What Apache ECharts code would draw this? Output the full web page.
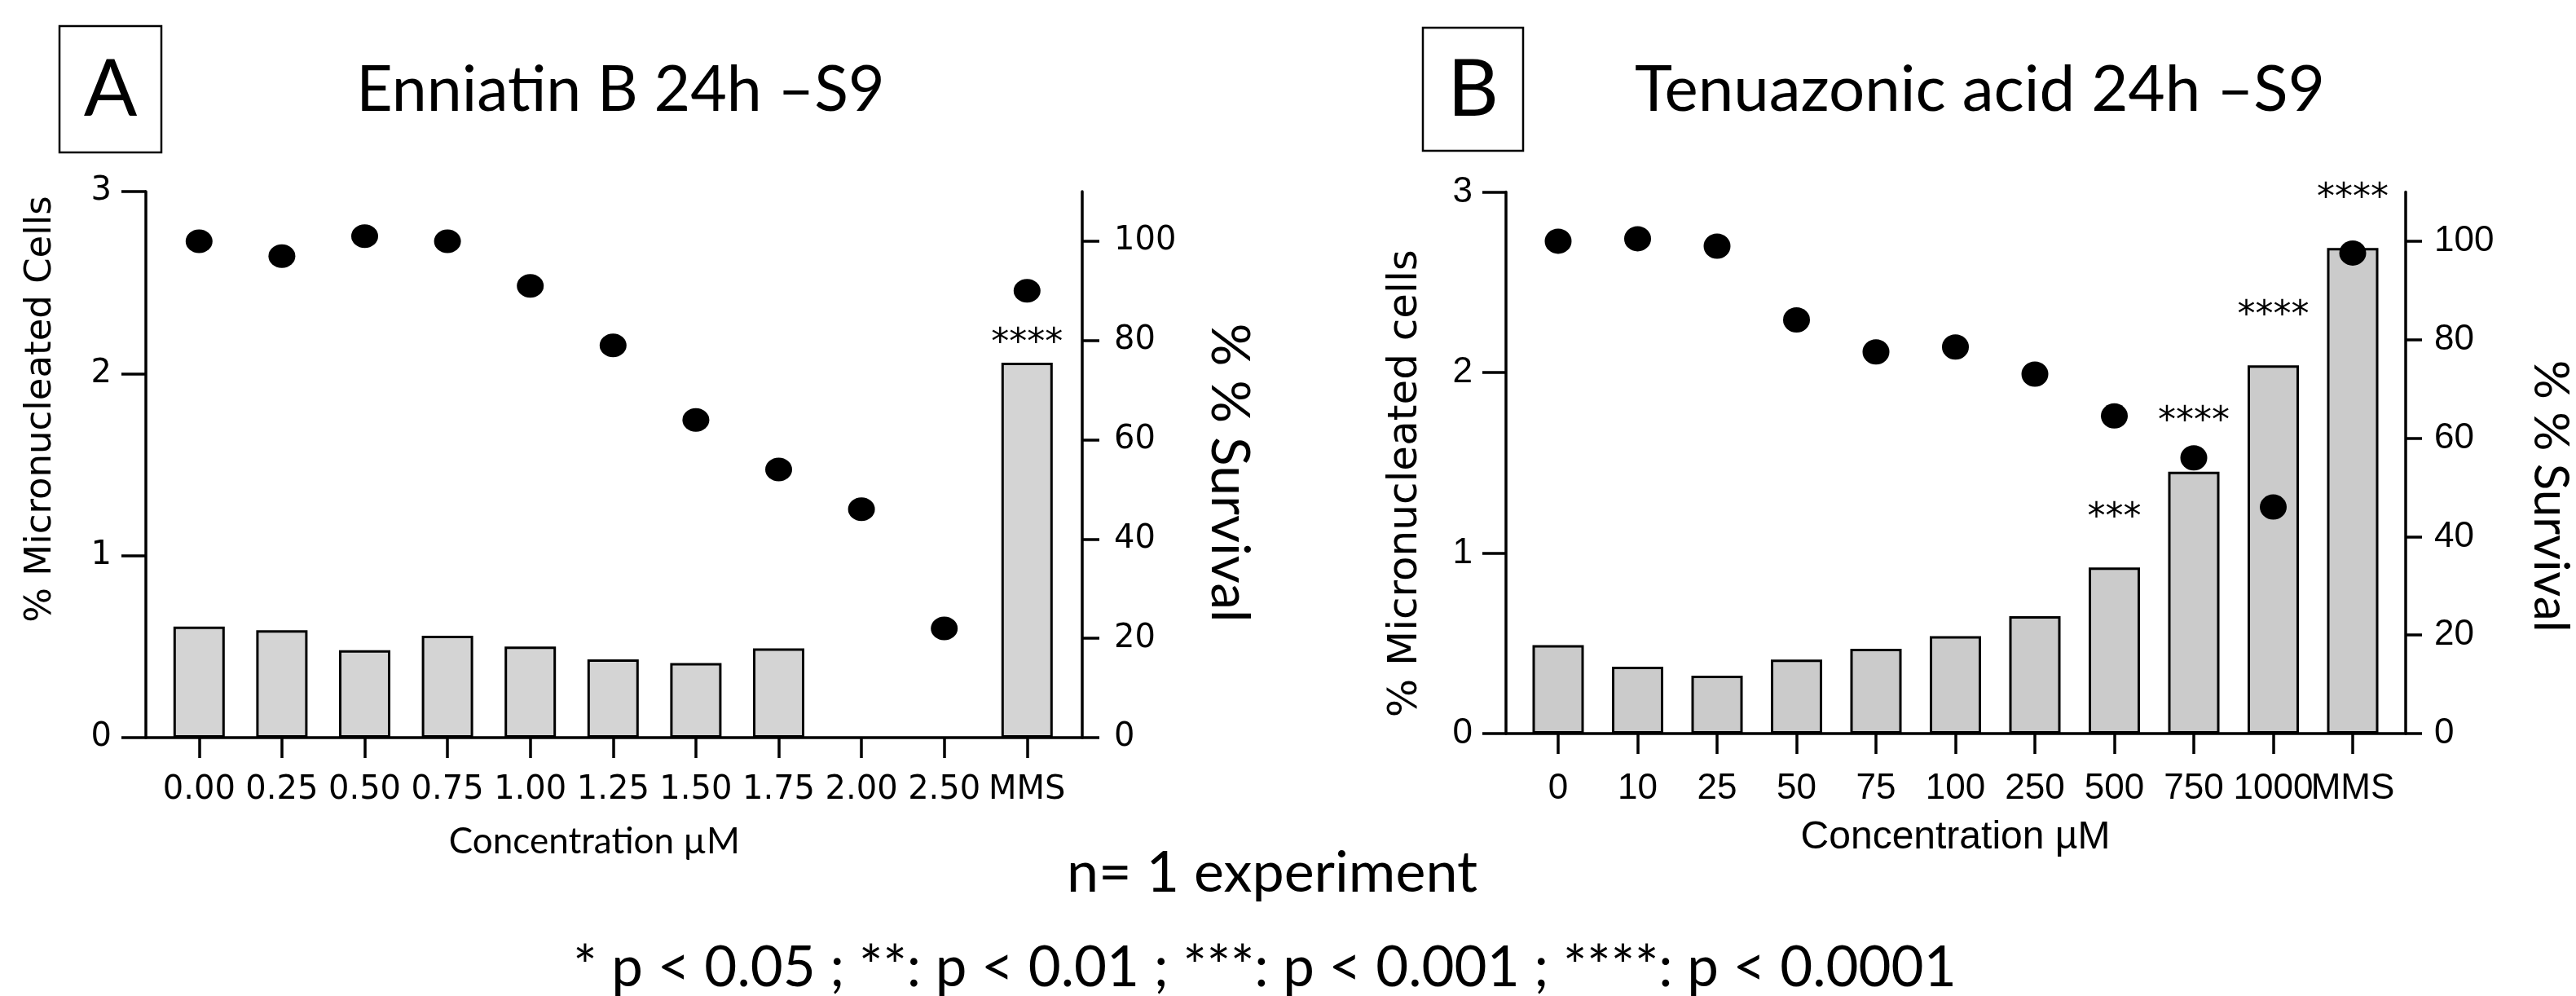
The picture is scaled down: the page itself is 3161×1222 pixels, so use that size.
<!DOCTYPE html>
<html>
<head>
<meta charset="utf-8">
<script src="https://cdn.jsdelivr.net/npm/echarts@6/dist/echarts.min.js"></script>
<style>html,body{margin:0;padding:0;background:#fff}#c{width:3161px;height:1222px}</style>
</head>
<body>
<div id="c"></div>
<script>
// ---- data ----
const catsA = ['0.00', '0.25', '0.50', '0.75', '1.00', '1.25', '1.50', '1.75', '2.00', '2.50', 'MMS'];
const micronucA = [0.61, 0.59, 0.48, 0.56, 0.50, 0.43, 0.41, 0.49, null, null, 2.06];
const survivalA = [100, 97, 101, 100, 91, 79, 64, 54, 46, 22, 90];
const sigA = ['', '', '', '', '', '', '', '', '', '', '****'];

const catsB = ['0', '10', '25', '50', '75', '100', '250', '500', '750', '1000', 'MMS'];
const micronucB = [0.49, 0.37, 0.32, 0.41, 0.47, 0.54, 0.65, 0.92, 1.45, 2.04, 2.69];
const survivalB = [100, 100.5, 99, 84, 77.5, 78.5, 73, 64.5, 56, 46, 97.6];
const sigB = ['', '', '', '', '', '', '', '***', '****', '****', '****'];

const leftTicks = [0, 1, 2, 3];
const rightTicks = [0, 20, 40, 60, 80, 100];

// ---- styles ----
const BLACK = '#000';
const LW = 3.5;

function frameX(grid) {
  return { gridIndex: grid, type: 'value', min: 0, max: 1,
    axisLine: { show: true, onZero: false, lineStyle: { color: BLACK, width: LW } },
    axisTick: { show: false }, axisLabel: { show: false }, splitLine: { show: false } };
}
function dataX(grid, cats, font, size, margin, name, nameFont, nameSize, nameGap, namePad) {
  return { gridIndex: grid, type: 'category', data: cats,
    axisLine: { show: false },
    axisTick: { show: true, alignWithLabel: true, length: 25, lineStyle: { color: BLACK, width: LW } },
    axisLabel: { interval: 0, color: BLACK, fontFamily: font, fontSize: size, margin: margin },
    splitLine: { show: false },
    name: name, nameLocation: 'middle', nameGap: nameGap,
    nameTextStyle: { color: BLACK, fontFamily: nameFont, fontSize: nameSize, padding: namePad } };
}
function leftY(grid, font, size, margin, tickLen, name, nameFont, nameSize, nameGap, namePad) {
  return { gridIndex: grid, type: 'value', position: 'left', min: 0, max: 3, interval: 1,
    axisLine: { show: true, lineStyle: { color: BLACK, width: LW } },
    axisTick: { show: true, length: tickLen, lineStyle: { color: BLACK, width: LW }, customValues: leftTicks },
    axisLabel: { color: BLACK, fontFamily: font, fontSize: size, margin: margin, customValues: leftTicks },
    splitLine: { show: false },
    name: name, nameLocation: 'middle', nameGap: nameGap, nameRotate: 90,
    nameTextStyle: { color: BLACK, fontFamily: nameFont, fontSize: nameSize, padding: namePad } };
}
function rightY(grid, font, size, margin, tickLen, name, nameFont, nameSize, nameGap, namePad) {
  return { gridIndex: grid, type: 'value', position: 'right', min: 0, max: 110, interval: 20,
    axisLine: { show: true, lineStyle: { color: BLACK, width: LW } },
    axisTick: { show: true, length: tickLen, lineStyle: { color: BLACK, width: LW }, customValues: rightTicks },
    axisLabel: { color: BLACK, fontFamily: font, fontSize: size, margin: margin, customValues: rightTicks },
    splitLine: { show: false },
    name: name, nameLocation: 'middle', nameGap: nameGap, nameRotate: -90,
    nameTextStyle: { color: BLACK, fontFamily: nameFont, fontSize: nameSize, padding: namePad } };
}
function hiddenY(grid, pos, max) {
  return { gridIndex: grid, type: 'value', position: pos, min: 0, max: max, show: false, splitLine: { show: false } };
}

const option = {
  animation: false,
  backgroundColor: '#fff',
  grid: [
    { left: 179, top: 235, width: 1149, height: 670 },
    { left: 193.5, top: 235, width: 1117.6, height: 670 },
    { left: 1848, top: 235.5, width: 1104, height: 664.5 },
    { left: 1863.25, top: 235.5, width: 1072.5, height: 664.5 }
  ],
  xAxis: [
    frameX(0),
    dataX(1, catsA, 'DejaVu Sans', 40, 45, 'Concentration µM', 'Lato', 44, 106, [0, 46, 0, 0]),
    frameX(2),
    dataX(3, catsB, 'Liberation Sans', 44, 46, 'Concentration µM', 'Liberation Sans', 48, 104, 0)
  ],
  yAxis: [
    leftY(0, 'DejaVu Sans', 40, 42, 30, '% Micronucleated Cells', 'DejaVu Sans', 45, 106, [0, 0, 0, 136]),
    rightY(0, 'DejaVu Sans', 40, 39, 21, '% % Survival', 'Lato', 66, 147, [0, 0, 0, 20]),
    hiddenY(1, 'left', 3),
    hiddenY(1, 'right', 110),
    leftY(2, 'Liberation Sans', 44, 41, 29, '% Micronucleated cells', 'DejaVu Sans', 50, 98, [0, 51, 0, 0]),
    rightY(2, 'Liberation Sans', 44, 35, 20, '% % Survival', 'Lato', 60, 147, [0, 0, 0, 82]),
    hiddenY(3, 'left', 3),
    hiddenY(3, 'right', 110)
  ],
  series: [
    { name: '% Micronucleated Cells', type: 'bar', xAxisIndex: 1, yAxisIndex: 2, data: micronucA,
      barWidth: 63, itemStyle: { color: '#d4d4d4', borderColor: BLACK, borderWidth: 3 },
      label: { show: true, position: 'top', distance: 0, color: BLACK, fontFamily: 'DejaVu Sans', fontSize: 44,
        formatter: p => sigA[p.dataIndex] } },
    { name: '% Survival', type: 'scatter', xAxisIndex: 1, yAxisIndex: 3, data: survivalA,
      symbol: 'circle', symbolSize: [33, 29], itemStyle: { color: BLACK, opacity: 1 }, z: 5 },
    { name: '% Micronucleated cells', type: 'bar', xAxisIndex: 3, yAxisIndex: 6, data: micronucB,
      barWidth: 63, itemStyle: { color: '#cbcbcb', borderColor: BLACK, borderWidth: 3 },
      label: { show: true, position: 'top', distance: 38, color: BLACK, fontFamily: 'DejaVu Sans', fontSize: 44,
        formatter: p => sigB[p.dataIndex] } },
    { name: '% Survival B', type: 'scatter', xAxisIndex: 3, yAxisIndex: 7, data: survivalB,
      symbol: 'circle', symbolSize: [33, 31], itemStyle: { color: BLACK, opacity: 1 }, z: 5 }
  ],
  graphic: [
    { type: 'rect', shape: { x: 73, y: 32, width: 125, height: 155 }, style: { fill: 'none', stroke: BLACK, lineWidth: 2.5 } },
    { type: 'text', x: 135.5, y: 111, style: { text: 'A', fill: BLACK, font: '97px Lato', textAlign: 'center', textVerticalAlign: 'middle' } },
    { type: 'text', x: 761.5, y: 111, style: { text: 'Enniatin B 24h –S9', fill: BLACK, font: '77px Lato', textAlign: 'center', textVerticalAlign: 'middle' } },
    { type: 'rect', shape: { x: 1746, y: 34, width: 123, height: 151 }, style: { fill: 'none', stroke: BLACK, lineWidth: 2.5 } },
    { type: 'text', x: 1807.5, y: 111, style: { text: 'B', fill: BLACK, font: '97px Lato', textAlign: 'center', textVerticalAlign: 'middle' } },
    { type: 'text', x: 2429.5, y: 111, style: { text: 'Tenuazonic acid 24h –S9', fill: BLACK, font: '78px Lato', textAlign: 'center', textVerticalAlign: 'middle' } },
    { type: 'text', x: 1561, y: 1071, style: { text: 'n= 1 experiment', fill: BLACK, font: '70px Lato', textAlign: 'center', textVerticalAlign: 'middle' } },
    { type: 'text', x: 1552, y: 1188, style: { text: '* p < 0.05 ; **: p < 0.01 ; ***: p < 0.001 ; ****: p < 0.0001', fill: BLACK, font: '69px Lato', textAlign: 'center', textVerticalAlign: 'middle' } }
  ]
};

const chart = echarts.init(document.getElementById('c'), null, { renderer: 'canvas' });
chart.setOption(option);
</script>
</body>
</html>
